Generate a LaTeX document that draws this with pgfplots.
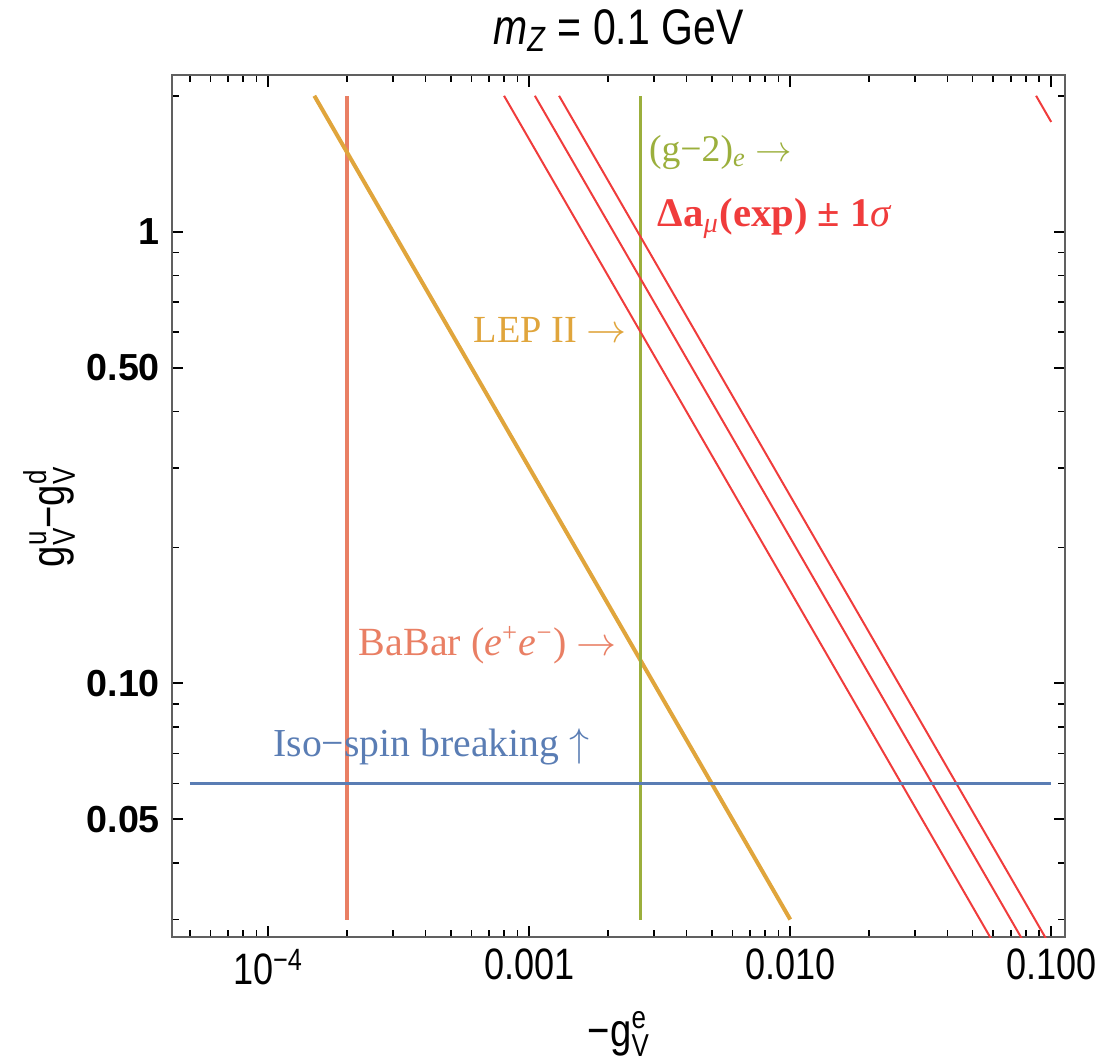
\documentclass[border=0pt]{standalone}
\usepackage{fontspec}
\usepackage{pgfplots}
\pgfplotsset{compat=1.18}
\setmainfont{Liberation Serif}
\setsansfont{Liberation Sans}
\newfontfamily\narrowsans[FakeStretch=0.82]{Liberation Sans}
\newcommand\gud[2]{g\rlap{\raisebox{5.6pt}{\fontsize{9.5}{10}\selectfont #1}}\raisebox{-3pt}{\fontsize{9.5}{10}\selectfont #2}}
\definecolor{babar}{RGB}{233,127,100}
\definecolor{lep}{RGB}{224,165,60}
\definecolor{gmt}{RGB}{155,175,60}
\definecolor{amu}{RGB}{240,60,60}
\definecolor{iso}{RGB}{90,125,180}
\begin{document}
\begin{tikzpicture}
\useasboundingbox (-51.51pt,-36.81pt) rectangle (279.69pt,281.19pt);
\begin{axis}[
  at={(0pt,0pt)}, anchor=south west, scale only axis,
  width=268pt, height=258.6pt,
  xmode=log, ymode=log,
  xmin=4.26e-5, xmax=0.113, ymin=0.0274, ymax=2.22,
  xtick={1e-4,1e-3,1e-2,1e-1},
  xticklabels={10\textsuperscript{−4},0.001,0.010,0.100},
  minor xtick={5e-5,6e-5,7e-5,8e-5,9e-5,2e-4,3e-4,4e-4,5e-4,6e-4,7e-4,8e-4,9e-4,2e-3,3e-3,4e-3,5e-3,6e-3,7e-3,8e-3,9e-3,2e-2,3e-2,4e-2,5e-2,6e-2,7e-2,8e-2,9e-2},
  ytick={0.05,0.1,0.5,1},
  yticklabels={0.05,0.10,0.50,1},
  minor ytick={0.03,0.04,0.06,0.07,0.08,0.09,0.2,0.3,0.4,0.6,0.7,0.8,0.9,2},
  tick align=inside,
  major tick length=3.4pt, minor tick length=2.1pt,
  major tick style={black, line width=0.55pt},
  minor tick style={black, line width=0.5pt},
  axis line style={draw=gray!75!black, line width=0.6pt},
  xticklabel style={font=\narrowsans\fontsize{13.2}{14}\selectfont, text=black},
  yticklabel style={font=\sffamily\bfseries\fontsize{11.3}{13}\selectfont, text=black},
]
% BaBar
\addplot[babar, line width=1.35pt] coordinates {(2e-4,0.03) (2e-4,2)};
% LEP II
\addplot[lep, line width=1.2pt] coordinates {(1.5e-4,2) (0.01,0.03)};
% (g-2)_e
\addplot[gmt, line width=0.9pt] coordinates {(2.66e-3,0.03) (2.66e-3,2)};
% Delta a_mu +- 1 sigma
\addplot[amu, line width=0.6pt] coordinates {(8e-4,2) (0.08,0.02)};
\addplot[amu, line width=0.6pt] coordinates {(1.05e-3,2) (0.105,0.02)};
\addplot[amu, line width=0.6pt] coordinates {(1.3e-3,2) (0.13,0.02)};
\addplot[amu, line width=0.6pt] coordinates {(0.0875,2) (0.1,1.75)};
% Iso-spin breaking
\addplot[iso, line width=0.9pt] coordinates {(5e-5,0.06) (0.1,0.06)};

\node[anchor=west, inner sep=0pt, text=gmt, font=\fontsize{11.3}{13}\selectfont] at (axis cs:2.86e-3,1.5) {(g−2)\textsubscript{\itshape e} $\rightarrow$};
\node[anchor=west, inner sep=0pt, text=amu, font=\fontsize{12.2}{13}\selectfont] at (axis cs:3.09e-3,1.07) {\bfseries Δa\textsubscript{\mdseries\itshape μ}(exp) ± 1{\mdseries\itshape σ}};
\node[anchor=west, inner sep=0pt, text=lep, font=\fontsize{11.5}{13}\selectfont] at (axis cs:6.1e-4,0.605) {LEP II $\rightarrow$};
\node[anchor=west, inner sep=0pt, text=babar, font=\fontsize{12}{13}\selectfont] at (axis cs:2.21e-4,0.1216) {BaBar ({\itshape e}\textsuperscript{+}{\itshape e}\textsuperscript{−}) $\rightarrow$};
\node[anchor=west, inner sep=0pt, text=iso, font=\fontsize{11.9}{13}\selectfont] at (axis cs:1.04e-4,0.0723) {Iso−spin breaking $\uparrow$};
\end{axis}
% title and axis labels (axis box spans (0,0)--(268pt,258.6pt))
\node[anchor=center, inner sep=0pt, font=\narrowsans\fontsize{15}{16}\selectfont] at (134pt,272pt) {{\itshape m}\textsubscript{\itshape Z} = 0.1 GeV};
\node[anchor=center, inner sep=0pt, font=\narrowsans\fontsize{14}{16}\selectfont] at (134pt,-29pt) {−\gud{e}{V}};
\node[anchor=center, inner sep=0pt, rotate=90, font=\narrowsans\fontsize{14}{16}\selectfont] at (-36.8pt,126pt) {\gud{u}{V}−\gud{d}{V}};
\end{tikzpicture}
\end{document}
